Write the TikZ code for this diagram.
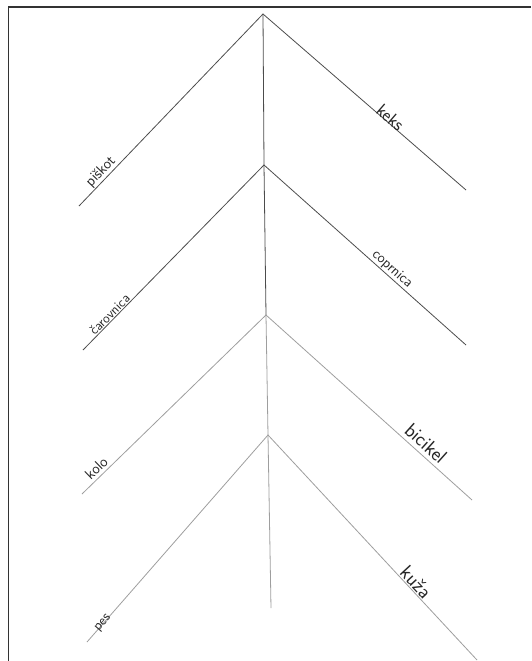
\documentclass[tikz,border=0pt]{standalone}
\begin{document}
\begin{tikzpicture}[x=1pt,y=-1pt,
  frame/.style={draw=black!80,line width=1.8pt},
  armdark/.style={draw=black!70,line width=0.8pt},
  armlight/.style={draw=black!38,line width=0.8pt},
  word/.style={sloped,font=\sffamily,text=black!85,inner sep=1pt}]
\useasboundingbox (0,0) rectangle (531,661);
% frame
\draw[frame] (8.5,661) -- (8.5,7) -- (531,7);
% apexes and ends
\coordinate (a1) at (263,14);
\coordinate (a2) at (264,165);
\coordinate (a3) at (266,315);
\coordinate (a4) at (268,435);
\coordinate (bot) at (271,608);
\coordinate (l1) at (79,206);
\coordinate (r1) at (466,190);
\coordinate (l2) at (83,350);
\coordinate (r2) at (466,345);
\coordinate (l3) at (82,494);
\coordinate (r3) at (472,500);
\coordinate (l4) at (87,642);
\coordinate (r4) at (477,660);
% spine
\draw[armdark] (a1) -- (a2) -- (a3);
\draw[armlight] (a3) -- (a4) -- (bot);
% arms
\draw[armdark] (l1) -- (a1) -- (r1);
\draw[armdark] (l2) -- (a2) -- (r2);
\draw[armlight] (l3) -- (a3) -- (r3);
\draw[armlight] (l4) -- (a4) -- (r4);
% labels
\path (l1) -- (a1) node[word,pos=0.15,above,font=\sffamily\fontsize{15}{15}\selectfont] (t1) {piškot};
\path (a1) -- (r1) node[word,pos=0.61,above=-2pt,font=\sffamily\fontsize{18}{18}\selectfont] (t2) {keks};
\path (l2) -- (a2) node[word,pos=0.17,above,font=\sffamily\fontsize{13.5}{13.5}\selectfont] (t3) {čarovnica};
\path (a2) -- (r2) node[word,pos=0.61,above,font=\sffamily\fontsize{14.5}{14.5}\selectfont] (t4) {coprnica};
\path (l3) -- (a3) node[word,pos=0.11,above=2pt,font=\sffamily\fontsize{15}{15}\selectfont] (t5) {kolo};
\path (a3) -- (r3) node[word,pos=0.74,above=3pt,font=\sffamily\fontsize{20}{20}\selectfont] (t6) {bicikel};
\path (l4) -- (a4) node[word,pos=0.09,font=\sffamily\fontsize{14}{14}\selectfont] (t7) {pes};
\path (a4) -- (r4) node[word,pos=0.68,above,font=\sffamily\fontsize{20}{20}\selectfont] (t8) {kuža};
\end{tikzpicture}
\end{document}
